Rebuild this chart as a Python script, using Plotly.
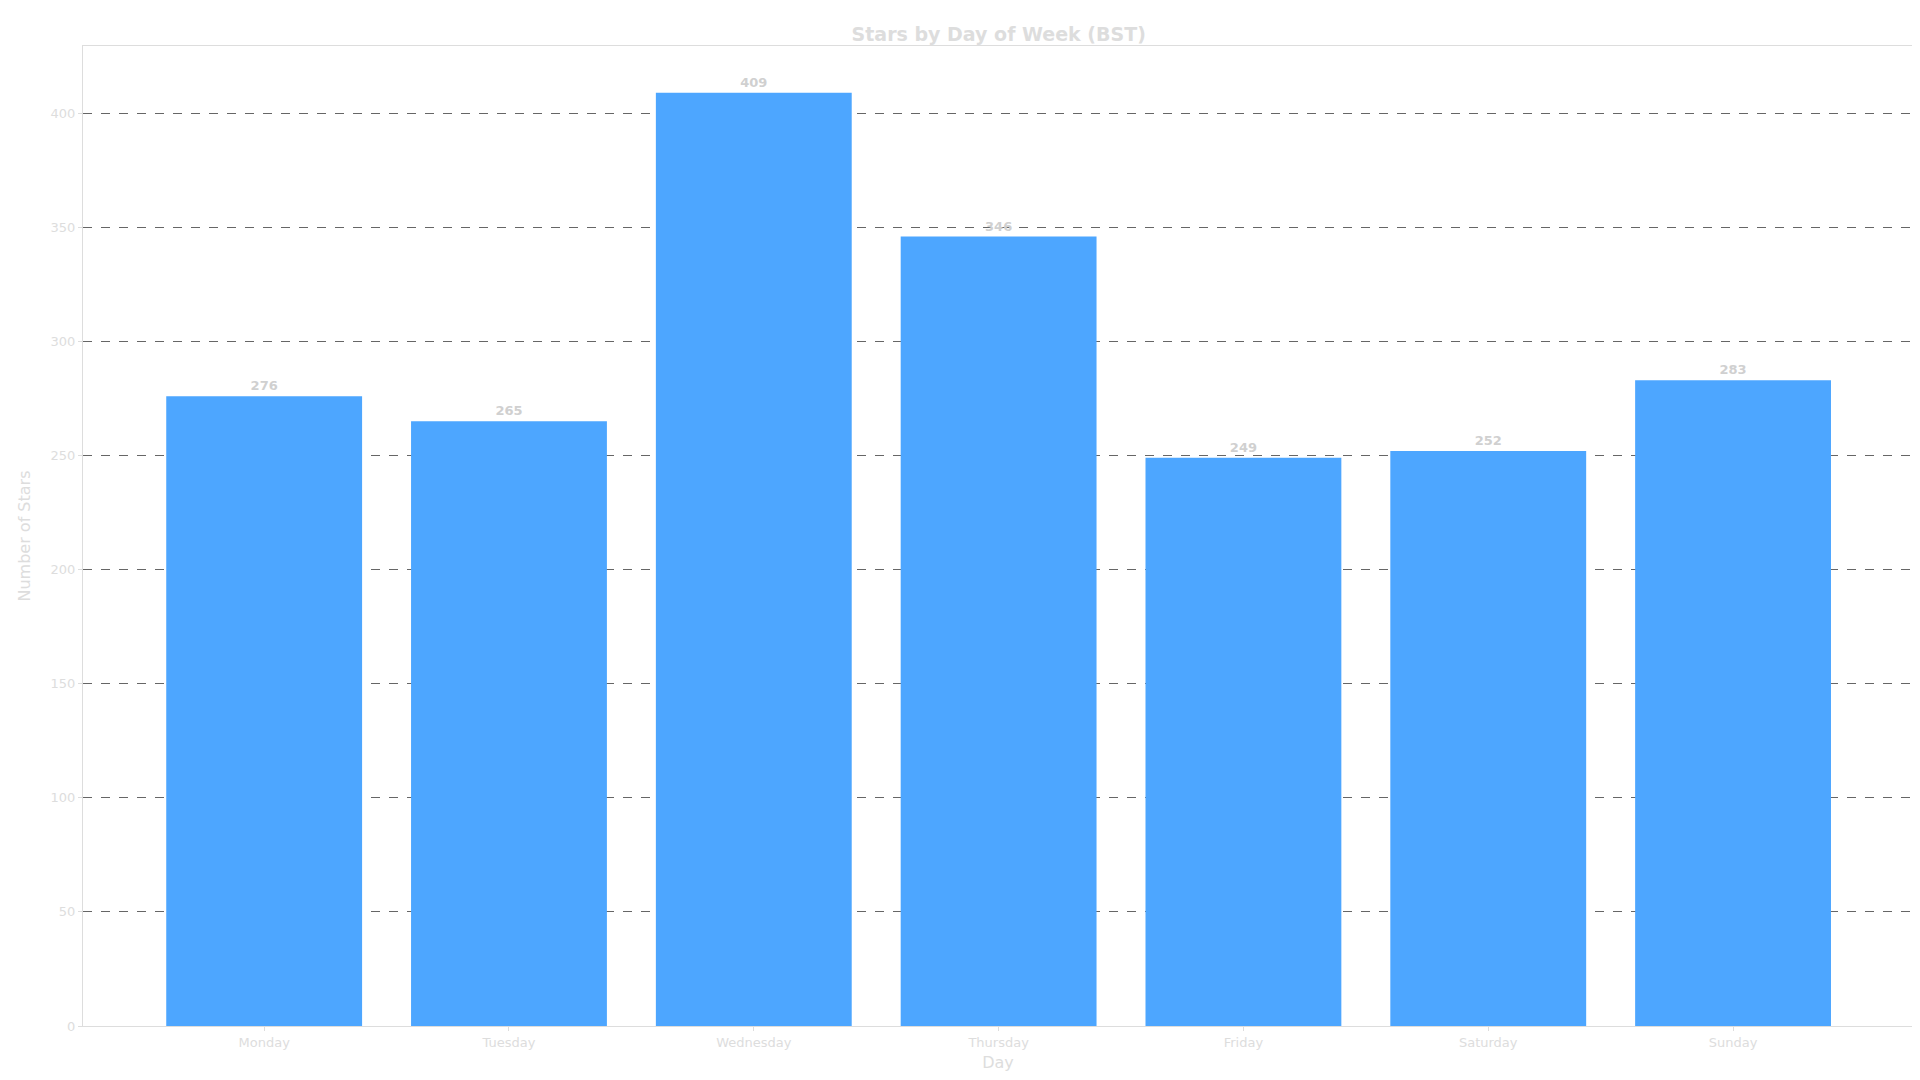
import plotly.graph_objects as go

days = ["Monday", "Tuesday", "Wednesday", "Thursday", "Friday", "Saturday", "Sunday"]
stars = [276, 265, 409, 346, 249, 252, 283]

fig = go.Figure(go.Bar(
    x=days, y=stars, marker_color="#4da6ff", marker_line_width=0,
    text=[str(v) for v in stars], textposition="outside",
    textfont=dict(color="#d0d0d0", size=13, family="DejaVu Sans"),
    texttemplate="<b>%{text}</b>", cliponaxis=False,
))
fig.update_layout(
    width=1920, height=1080, plot_bgcolor="white", paper_bgcolor="white",
    margin=dict(l=75, r=15, t=38, b=62), bargap=0.2, showlegend=False,
    title=dict(text="<b>Stars by Day of Week (BST)</b>", x=0.516, y=0.982, xanchor="center",
               font=dict(size=19, color="#dddddd", family="DejaVu Sans")),
    font=dict(family="DejaVu Sans", color="#dddddd"),
)
fig.update_xaxes(range=[-0.74, 6.735], title=dict(text="Day", font=dict(size=16, color="#dddddd"), standoff=8),
                 tickfont=dict(size=13, color="#dddddd"), showline=True, linecolor="#dddddd",
                 mirror=True, ticks="outside", tickcolor="#dddddd", ticklen=4, showgrid=False)
fig.update_yaxes(range=[0, 429.5], dtick=50, title=dict(text="Number of Stars", font=dict(size=16, color="#dddddd")),
                 tickfont=dict(size=13, color="#dddddd"), showline=True, linecolor="#dddddd",
                 mirror=True, ticks="outside", tickcolor="#dddddd", ticklen=4,
                 showgrid=True, gridcolor="#666666", griddash="dash", gridwidth=1, zeroline=False)
fig.write_html("out.html")
